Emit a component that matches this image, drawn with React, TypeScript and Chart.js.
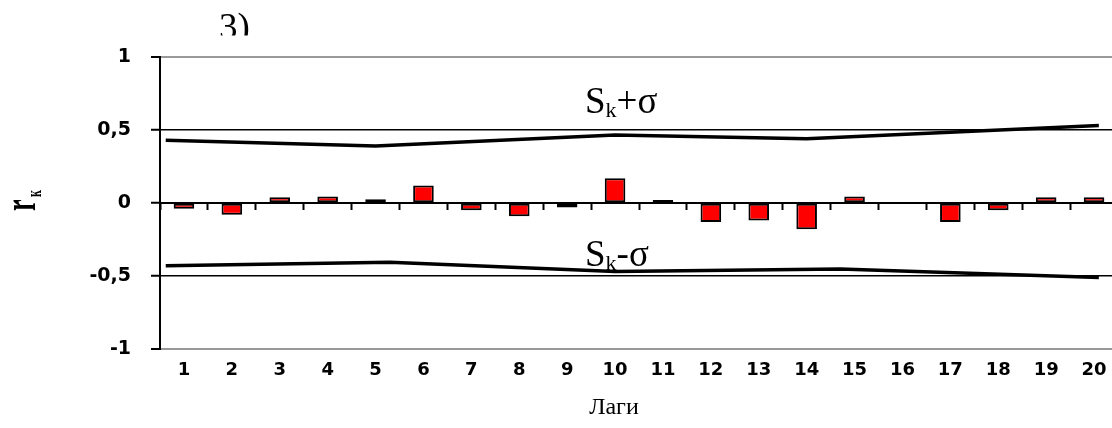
import React, { useEffect, useRef } from 'react';
import { Chart, registerables } from 'chart.js';

Chart.register(...registerables);

// ---- data ----
const lags = ['1', '2', '3', '4', '5', '6', '7', '8', '9', '10', '11', '12', '13', '14', '15', '16', '17', '18', '19', '20'];
const rk: (number | null)[] = [-0.04, -0.08, 0.04, 0.045, 0.025, 0.12, -0.05, -0.09, -0.03, 0.17, 0.02, -0.13, -0.12, -0.18, 0.045, null, -0.13, -0.05, 0.04, 0.04];
const upperLag = [0.62, 5, 10, 14, 20.1];
const upperVal = [0.43, 0.39, 0.465, 0.44, 0.53];
const lowerLag = [0.62, 5.3, 10, 14.7, 20.1];
const lowerVal = [-0.43, -0.405, -0.47, -0.452, -0.51];
const yTicks = [-1, -0.5, 0, 0.5, 1];

const SERIF = '"Liberation Serif", "Times New Roman", serif';
const SANS = '"DejaVu Sans", sans-serif';

const textPlugin = {
  id: 'texts',
  afterDraw(chart: any) {
    const ctx: CanvasRenderingContext2D = chart.ctx;
    ctx.save();
    ctx.fillStyle = '#000';
    ctx.textAlign = 'left';
    ctx.textBaseline = 'alphabetic';

    // panel label "3)" (clipped at the bottom as in the source)
    ctx.save();
    ctx.beginPath();
    ctx.rect(0, 0, 400, 35.5);
    ctx.clip();
    ctx.font = `37px ${SERIF}`;
    ctx.fillText('3)', 219, 39);
    ctx.restore();

    const drawS = (x: number, base: number, rest: string) => {
      ctx.font = `37px ${SERIF}`;
      ctx.fillText('S', x, base);
      let cx = x + ctx.measureText('S').width;
      ctx.font = `22px ${SERIF}`;
      ctx.fillText('k', cx, base + 4);
      cx += ctx.measureText('k').width;
      ctx.font = `37px ${SERIF}`;
      ctx.fillText(rest, cx, base);
    };
    drawS(585, 113, '+σ');
    drawS(585, 266, '-σ');

    // x axis title
    ctx.font = `24px ${SERIF}`;
    ctx.textAlign = 'center';
    ctx.fillText('Лаги', 614, 414);

    // y axis title r_к (rotated)
    ctx.save();
    ctx.translate(35, 211);
    ctx.rotate(-Math.PI / 2);
    ctx.scale(1, 1.8);
    ctx.textAlign = 'left';
    ctx.font = `bold 26px ${SERIF}`;
    ctx.fillText('r', 0, 0);
    ctx.font = `bold 12px ${SERIF}`;
    ctx.fillText('к', 14, 3.3);
    ctx.restore();

    ctx.restore();
  },
};

export default function App() {
  const ref = useRef<HTMLCanvasElement>(null);

  useEffect(() => {
    if (!ref.current) return;
    const chart = new Chart(ref.current, {
      type: 'bar',
      data: {
        labels: lags,
        datasets: [
          {
            type: 'bar',
            label: 'rk',
            data: rk,
            xAxisID: 'x',
            yAxisID: 'y',
            backgroundColor: '#ff0000',
            borderColor: '#000',
            borderWidth: 2,
            borderSkipped: false,
            grouped: false,
            barPercentage: 0.43,
            categoryPercentage: 1,
            order: 2,
          } as any,
          {
            type: 'line',
            label: 'Sk+σ',
            data: upperLag.map((x, i) => ({ x, y: upperVal[i] })),
            xAxisID: 'xl',
            yAxisID: 'y',
            borderColor: '#000',
            borderWidth: 3.5,
            pointRadius: 0,
            fill: false,
            tension: 0,
            order: 1,
          } as any,
          {
            type: 'line',
            label: 'Sk-σ',
            data: lowerLag.map((x, i) => ({ x, y: lowerVal[i] })),
            xAxisID: 'xl',
            yAxisID: 'y',
            borderColor: '#000',
            borderWidth: 3.5,
            pointRadius: 0,
            fill: false,
            tension: 0,
            order: 1,
          } as any,
        ],
      },
      options: {
        animation: false,
        responsive: true,
        maintainAspectRatio: false,
        layout: { padding: { top: 57, right: 8, left: 0, bottom: 0 } },
        plugins: {
          legend: { display: false },
          tooltip: { enabled: false },
          title: { display: false },
        },
        scales: {
          x: {
            type: 'category',
            position: 'bottom',
            offset: true,
            grid: { display: false, drawTicks: false },
            border: { display: true, color: '#999', width: 2 },
            ticks: {
              color: '#000',
              font: { family: SANS, size: 18, weight: 'bold' },
              padding: 11,
              autoSkip: false,
              maxRotation: 0,
            },
            afterFit: (s: any) => {
              s.height = 79;
            },
          },
          x0: {
            type: 'category',
            axis: 'x',
            position: { y: 0 },
            offset: true,
            grid: {
              display: true,
              offset: true,
              drawOnChartArea: false,
              drawTicks: true,
              tickLength: 6,
              tickColor: '#000',
              tickWidth: 2,
              color: '#000',
            },
            border: { display: true, color: '#000', width: 2 },
            ticks: { display: false },
          },
          xl: {
            type: 'linear',
            axis: 'x',
            display: false,
            offset: false,
            grid: { offset: false },
            min: 0.5,
            max: 20.5,
          },
          y: {
            type: 'linear',
            position: 'left',
            min: -1,
            max: 1,
            afterBuildTicks: (s: any) => {
              s.ticks = yTicks.map((v) => ({ value: v }));
            },
            grid: {
              color: (c: any) => {
                const v = c.tick ? c.tick.value : 0;
                if (v === 1 || v === -1) return '#999';
                if (v === 0) return 'rgba(0,0,0,0)';
                return '#000';
              },
              lineWidth: (c: any) => {
                const v = c.tick ? c.tick.value : 0;
                if (v === 1 || v === -1) return 2;
                return 1.5;
              },
              tickColor: '#000',
              tickWidth: 2,
              tickLength: 9,
              drawTicks: true,
            },
            border: { display: true, color: '#000', width: 2 },
            ticks: {
              color: '#000',
              font: { family: SANS, size: 19, weight: 'bold' },
              padding: 20,
              callback: (v: any) => String(v).replace('.', ','),
            },
            afterFit: (s: any) => {
              s.width = 160;
            },
          },
        },
      } as any,
      plugins: [textPlugin],
    });
    return () => chart.destroy();
  }, []);

  return (
    <div
      style={{
        position: 'fixed',
        left: 0,
        top: 0,
        width: 1112,
        height: 428,
        overflow: 'hidden',
        background: '#fff',
      }}
    >
      <div style={{ position: 'relative', width: 1126, height: 428 }}>
        <canvas ref={ref} />
      </div>
    </div>
  );
}
